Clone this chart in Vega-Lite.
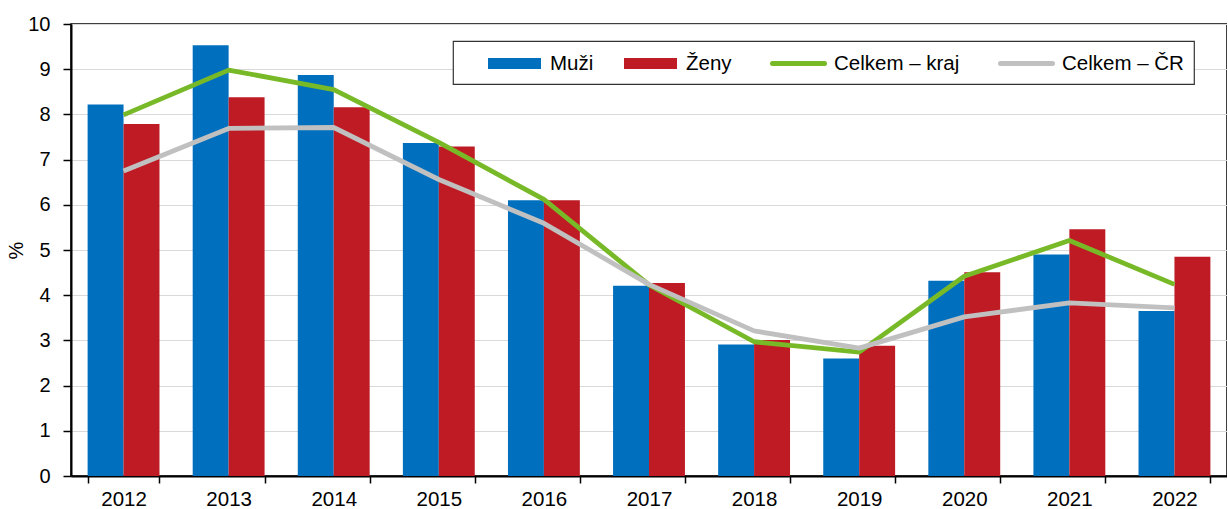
{
  "$schema": "https://vega.github.io/schema/vega-lite/v6.json",
  "autosize": {"type": "none"},
  "padding": {"left": 71, "top": 24, "right": 0, "bottom": 33},
  "width": 1156,
  "height": 452,
  "config": {
    "font": "Liberation Sans",
    "view": {"stroke": "black", "strokeWidth": 1.5},
    "axis": {"labelFont": "Liberation Sans", "titleFont": "Liberation Sans", "labelColor": "#000", "titleColor": "#000"}
  },
  "data": {"values": [
    {"rok": "2012", "serie": "Muži", "hodnota": 8.22, "typ": "bar"},
    {"rok": "2012", "serie": "Ženy", "hodnota": 7.79, "typ": "bar"},
    {"rok": "2012", "serie": "Celkem – kraj", "hodnota": 7.99, "typ": "line"},
    {"rok": "2012", "serie": "Celkem – ČR", "hodnota": 6.75, "typ": "line"},
    {"rok": "2013", "serie": "Muži", "hodnota": 9.53, "typ": "bar"},
    {"rok": "2013", "serie": "Ženy", "hodnota": 8.38, "typ": "bar"},
    {"rok": "2013", "serie": "Celkem – kraj", "hodnota": 8.98, "typ": "line"},
    {"rok": "2013", "serie": "Celkem – ČR", "hodnota": 7.69, "typ": "line"},
    {"rok": "2014", "serie": "Muži", "hodnota": 8.87, "typ": "bar"},
    {"rok": "2014", "serie": "Ženy", "hodnota": 8.16, "typ": "bar"},
    {"rok": "2014", "serie": "Celkem – kraj", "hodnota": 8.55, "typ": "line"},
    {"rok": "2014", "serie": "Celkem – ČR", "hodnota": 7.71, "typ": "line"},
    {"rok": "2015", "serie": "Muži", "hodnota": 7.37, "typ": "bar"},
    {"rok": "2015", "serie": "Ženy", "hodnota": 7.29, "typ": "bar"},
    {"rok": "2015", "serie": "Celkem – kraj", "hodnota": 7.38, "typ": "line"},
    {"rok": "2015", "serie": "Celkem – ČR", "hodnota": 6.56, "typ": "line"},
    {"rok": "2016", "serie": "Muži", "hodnota": 6.10, "typ": "bar"},
    {"rok": "2016", "serie": "Ženy", "hodnota": 6.10, "typ": "bar"},
    {"rok": "2016", "serie": "Celkem – kraj", "hodnota": 6.12, "typ": "line"},
    {"rok": "2016", "serie": "Celkem – ČR", "hodnota": 5.59, "typ": "line"},
    {"rok": "2017", "serie": "Muži", "hodnota": 4.21, "typ": "bar"},
    {"rok": "2017", "serie": "Ženy", "hodnota": 4.27, "typ": "bar"},
    {"rok": "2017", "serie": "Celkem – kraj", "hodnota": 4.23, "typ": "line"},
    {"rok": "2017", "serie": "Celkem – ČR", "hodnota": 4.24, "typ": "line"},
    {"rok": "2018", "serie": "Muži", "hodnota": 2.91, "typ": "bar"},
    {"rok": "2018", "serie": "Ženy", "hodnota": 3.01, "typ": "bar"},
    {"rok": "2018", "serie": "Celkem – kraj", "hodnota": 2.97, "typ": "line"},
    {"rok": "2018", "serie": "Celkem – ČR", "hodnota": 3.21, "typ": "line"},
    {"rok": "2019", "serie": "Muži", "hodnota": 2.60, "typ": "bar"},
    {"rok": "2019", "serie": "Ženy", "hodnota": 2.88, "typ": "bar"},
    {"rok": "2019", "serie": "Celkem – kraj", "hodnota": 2.74, "typ": "line"},
    {"rok": "2019", "serie": "Celkem – ČR", "hodnota": 2.83, "typ": "line"},
    {"rok": "2020", "serie": "Muži", "hodnota": 4.32, "typ": "bar"},
    {"rok": "2020", "serie": "Ženy", "hodnota": 4.51, "typ": "bar"},
    {"rok": "2020", "serie": "Celkem – kraj", "hodnota": 4.42, "typ": "line"},
    {"rok": "2020", "serie": "Celkem – ČR", "hodnota": 3.52, "typ": "line"},
    {"rok": "2021", "serie": "Muži", "hodnota": 4.90, "typ": "bar"},
    {"rok": "2021", "serie": "Ženy", "hodnota": 5.46, "typ": "bar"},
    {"rok": "2021", "serie": "Celkem – kraj", "hodnota": 5.21, "typ": "line"},
    {"rok": "2021", "serie": "Celkem – ČR", "hodnota": 3.83, "typ": "line"},
    {"rok": "2022", "serie": "Muži", "hodnota": 3.65, "typ": "bar"},
    {"rok": "2022", "serie": "Ženy", "hodnota": 4.85, "typ": "bar"},
    {"rok": "2022", "serie": "Celkem – kraj", "hodnota": 4.24, "typ": "line"},
    {"rok": "2022", "serie": "Celkem – ČR", "hodnota": 3.72, "typ": "line"}
  ]},
  "encoding": {
    "x": {
      "field": "rok", "type": "nominal", "title": null,
      "scale": {"paddingInner": 0.316, "paddingOuter": 0.158},
      "axis": {"labelAngle": 0, "labelFontSize": 20.5, "tickBand": "extent", "tickSize": 7, "tickColor": "#000", "tickWidth": 1.5, "domainColor": "#000", "domainWidth": 2, "labelPadding": 6, "grid": false}
    },
    "y": {
      "field": "hodnota", "type": "quantitative", "title": "%",
      "scale": {"domain": [0, 10], "nice": false},
      "axis": {"values": [0,1,2,3,4,5,6,7,8,9,10], "labelFontSize": 20, "titleFontSize": 20, "titleFontWeight": "normal", "titlePadding": 1, "tickSize": 8, "tickColor": "#000", "tickWidth": 1.5, "domainColor": "#000", "domainWidth": 2, "labelPadding": 13, "gridColor": "#d9d9d9", "gridWidth": 1.2}
    }
  },
  "layer": [
    {
      "transform": [{"filter": "datum.typ == 'bar'"}],
      "mark": {"type": "bar"},
      "encoding": {
        "xOffset": {"field": "serie", "type": "nominal", "scale": {"domain": ["Muži", "Ženy"]}},
        "color": {
          "field": "serie", "type": "nominal",
          "scale": {"domain": ["Muži", "Ženy", "Celkem – kraj", "Celkem – ČR"], "range": ["#0070BE", "#BE1B24", "#78B928", "#C0C0C0"]},
          "legend": {
            "title": "\u00a0", "titleOrient": "left", "titlePadding": 25, "titleFontSize": 20,
            "orient": "none", "legendX": 382, "legendY": 17, "direction": "horizontal",
            "padding": 10, "strokeColor": "#333", "fillColor": "white",
            "labelFontSize": 20.5, "labelColor": "#000", "labelOffset": 23, "columnPadding": 30,
            "symbolSize": 400, "symbolStrokeWidth": 5, "symbolOffset": 14,
            "encode": {
              "legend": {"update": {"strokeWidth": {"value": 1.2}}},
              "symbols": {"update": {
                "shape": {"signal": "datum.value == 'Muži' || datum.value == 'Ženy' ? 'M-2.65,-0.55H2.65V0.55H-2.65Z' : 'M-2.6,0H2.6'"},
                "fill": {"signal": "datum.value == 'Muži' || datum.value == 'Ženy' ? scale('color', datum.value) : 'transparent'"},
                "stroke": {"signal": "scale('color', datum.value)"},
                "strokeOpacity": {"signal": "datum.value == 'Muži' || datum.value == 'Ženy' ? 0 : 1"},
                "strokeCap": {"value": "round"},
                "opacity": {"value": 1}
              }}
            }
          }
        }
      }
    },
    {
      "transform": [{"filter": "datum.typ == 'line'"}],
      "mark": {"type": "line", "strokeWidth": 4.8, "strokeJoin": "round"},
      "encoding": {
        "color": {"field": "serie", "type": "nominal"}
      }
    }
  ]
}
